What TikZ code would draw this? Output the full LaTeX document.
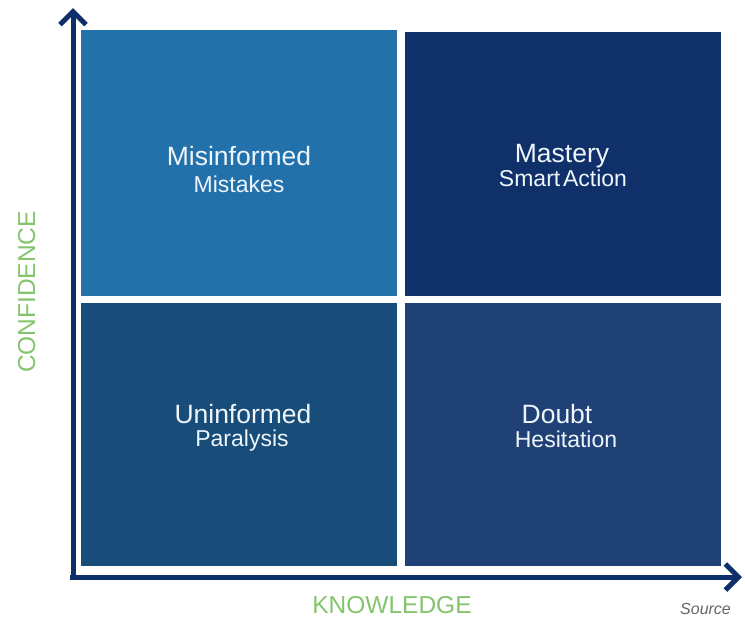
\documentclass[tikz,border=0pt]{standalone}
\usepackage{fontspec}
\setmainfont{Liberation Sans}
\usetikzlibrary{arrows.meta}

\definecolor{axisblue}{HTML}{0D306B}
\definecolor{quadA}{HTML}{2371AA}
\definecolor{quadB}{HTML}{0F3068}
\definecolor{quadC}{HTML}{184C79}
\definecolor{quadD}{HTML}{1F4176}
\definecolor{labelgreen}{HTML}{84C46C}
\definecolor{quadtext}{HTML}{EEF5FB}

\tikzset{
  axisline/.style={draw=axisblue, line width=5pt,
    -{Straight Barb[length=13pt, width=26pt, line width=5pt]}},
  headline/.style={anchor=base, text=quadtext, inner sep=0pt,
    font=\fontsize{26.5}{30}\selectfont},
  subline/.style={anchor=base, text=quadtext, inner sep=0pt,
    font=\fontsize{23}{27}\selectfont},
  axislabel/.style={anchor=base, text=labelgreen, inner sep=0pt,
    font=\fontsize{24.5}{28}\selectfont},
}

\begin{document}
\begin{tikzpicture}[x=1pt, y=-1pt]
  \clip (0,0) rectangle (745,619);
  \fill[white] (0,0) rectangle (745,619);

  % four quadrants
  \fill[quadA] (81,30) rectangle (397,296);
  \fill[quadB] (405,32) rectangle (721,296);
  \fill[quadC] (81,303) rectangle (397,566);
  \fill[quadD] (405,303) rectangle (721,566);

  % axes
  \coordinate (ybase) at (73,580);
  \coordinate (xbase) at (70,577);
  \coordinate (ytip) at (73,8);
  \coordinate (xtip) at (742,577);
  \draw[axisline] (ybase) -- (ytip);
  \draw[axisline] (xbase) -- (xtip);

  % quadrant texts
  \node[headline] (misinf) at (239,165) {Misinformed};
  \node[subline]  (mistk)  at (239,192) {Mistakes};
  \node[headline] (mast)   at (562,162) {Mastery};
  \node[subline]  (smart)  at (563,186) {Smart\hspace{0.12em}Action};
  \node[headline] (uninf)  at (243,423) {Uninformed};
  \node[subline]  (paral)  at (242,446) {Paralysis};
  \node[headline] (doubt)  at (557,423) {Doubt};
  \node[subline]  (hesit)  at (566,447) {Hesitation};

  % axis labels
  \node[axislabel, rotate=90] (conf) at (35,292) {CONFIDENCE};
  \node[axislabel] (know) at (392,613) {KNOWLEDGE};

  % source note
  \node[anchor=base west, inner sep=0pt, text=gray!80!black,
        font=\fontsize{16}{19}\selectfont\itshape] (src) at (680,614) {Source};
\end{tikzpicture}
\end{document}
